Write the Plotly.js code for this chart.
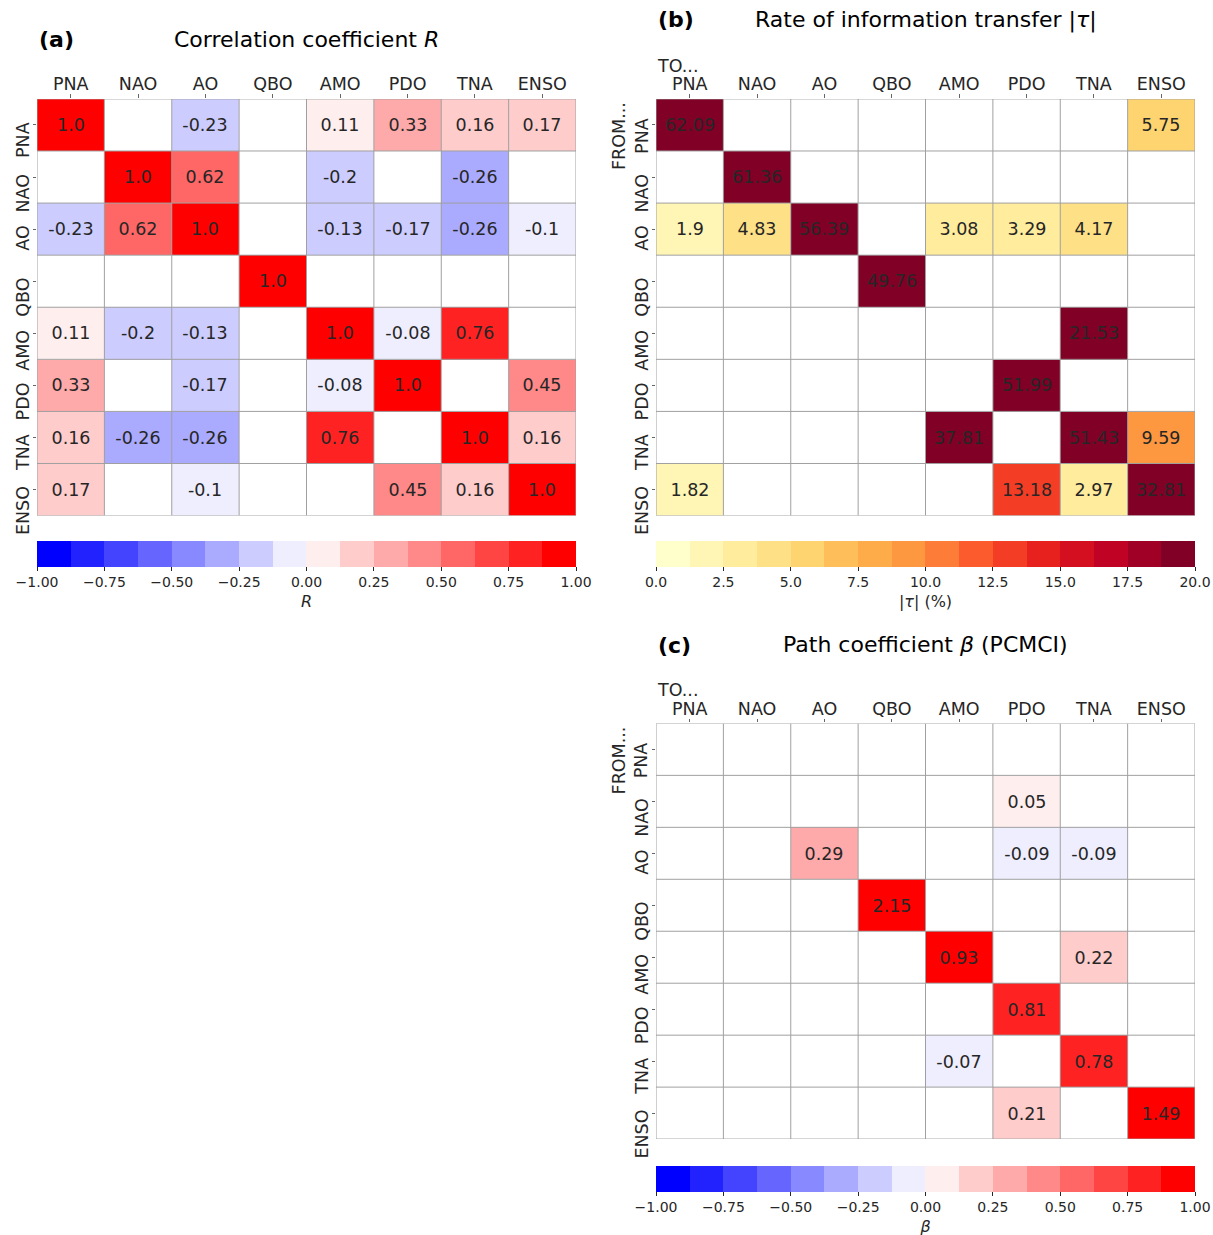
<!DOCTYPE html>
<html><head><meta charset="utf-8">
<script src="https://cdn.plot.ly/plotly-3.0.1.min.js"></script>
<style>html,body{margin:0;padding:0;background:#fff}#chart{width:1213px;height:1235px}</style>
</head><body><div id="chart"></div>
<script>
// ---------------- DATA ----------------
const categories = ['PNA','NAO','AO','QBO','AMO','PDO','TNA','ENSO'];

// (a) correlation coefficient R (rows = y, columns = x)
const corrR = [
  [1.0,  null, -0.23, null, 0.11, 0.33, 0.16, 0.17],
  [null, 1.0,  0.62,  null, -0.2, null, -0.26, null],
  [-0.23, 0.62, 1.0,  null, -0.13, -0.17, -0.26, -0.1],
  [null, null, null,  1.0,  null, null, null, null],
  [0.11, -0.2, -0.13, null, 1.0, -0.08, 0.76, null],
  [0.33, null, -0.17, null, -0.08, 1.0, null, 0.45],
  [0.16, -0.26, -0.26, null, 0.76, null, 1.0, 0.16],
  [0.17, null, -0.1,  null, null, 0.45, 0.16, 1.0]
];

// (b) rate of information transfer |tau| (%)  FROM row TO column
const tauRate = [
  [62.09, null, null, null, null, null, null, 5.75],
  [null, 61.36, null, null, null, null, null, null],
  [1.9, 4.83, 56.39, null, 3.08, 3.29, 4.17, null],
  [null, null, null, 49.76, null, null, null, null],
  [null, null, null, null, null, null, 21.53, null],
  [null, null, null, null, null, 51.99, null, null],
  [null, null, null, null, 37.81, null, 51.43, 9.59],
  [1.82, null, null, null, null, 13.18, 2.97, 32.81]
];

// (c) path coefficient beta (PCMCI)  FROM row TO column
const pathBeta = [
  [null, null, null, null, null, null, null, null],
  [null, null, null, null, null, 0.05, null, null],
  [null, null, 0.29, null, null, -0.09, -0.09, null],
  [null, null, null, 2.15, null, null, null, null],
  [null, null, null, null, 0.93, null, 0.22, null],
  [null, null, null, null, null, 0.81, null, null],
  [null, null, null, null, -0.07, null, 0.78, null],
  [null, null, null, null, null, 0.21, null, 1.49]
];

const rTicks = [-1, -0.75, -0.5, -0.25, 0, 0.25, 0.5, 0.75, 1];
const tauTicks = [0, 2.5, 5, 7.5, 10, 12.5, 15, 17.5, 20];

// discrete colormaps (16 levels)
const bwrLevels = ['#0000ff','#2222ff','#4444ff','#6666ff','#8888ff','#aaaaff','#ccccff','#eeeeff',
                   '#ffeeee','#ffcccc','#ffaaaa','#ff8888','#ff6666','#ff4444','#ff2222','#ff0000'];
const ylorrdLevels = ['rgb(255,255,204)','rgb(255,245,181)','rgb(255,236,157)','rgb(254,225,135)',
                      'rgb(254,212,112)','rgb(254,191,90)','rgb(254,171,73)','rgb(253,151,64)',
                      'rgb(253,124,55)','rgb(252,91,46)','rgb(244,61,37)','rgb(230,33,30)',
                      'rgb(212,16,32)','rgb(192,2,37)','rgb(161,0,38)','rgb(128,0,38)'];

// ---------------- HELPERS ----------------
const W = 1213, H = 1235;
const fx = p => p / W;
const fy = p => 1 - p / H;
const FONT = 'DejaVu Sans, Verdana, sans-serif';
const TXT = '#262626';
const LBL = 17.5;

function stepScale(cols) {
  const n = cols.length, out = [];
  cols.forEach((c, i) => { out.push([i / n, c]); out.push([(i + 1) / n, c]); });
  return out;
}
function fmt(v) {
  if (v === null) return '';
  return Number.isInteger(v) ? v.toFixed(1) : String(v);
}
const textOf = m => m.map(r => r.map(fmt));

// panel pixel boxes
const boxes = {
  a: {x0: 37, x1: 576, y0: 99, y1: 516},
  b: {x0: 656, x1: 1195, y0: 99, y1: 516},
  c: {x0: 656, x1: 1195, y0: 724, y1: 1140}
};

function heat(z, scale, zmin, zmax, xa, ya, box, cbTop, cbTitle, ticks, tfmt) {
  return {
    type: 'heatmap', x: categories, y: categories, z: z,
    text: textOf(z), texttemplate: '%{text}',
    textfont: {family: FONT, size: LBL, color: TXT},
    colorscale: stepScale(scale), zmin: zmin, zmax: zmax,
    xaxis: xa, yaxis: ya, hoverinfo: 'skip',
    colorbar: {
      orientation: 'h', x: fx((box.x0 + box.x1) / 2), xanchor: 'center',
      y: fy(cbTop), yanchor: 'top', len: box.x1 - box.x0, lenmode: 'pixels',
      thickness: 26, thicknessmode: 'pixels', xpad: 0, ypad: 0,
      outlinewidth: 0, tickvals: ticks, tickformat: tfmt,
      ticks: 'outside', ticklen: 4, tickwidth: 1, tickcolor: TXT,
      tickfont: {family: FONT, size: 14, color: TXT},
      title: {text: cbTitle, side: 'bottom', font: {family: FONT, size: 16, color: TXT}}
    }
  };
}

const n = categories.length;
function axisPair(box, anchorX, anchorY) {
  const xa = {
    domain: [fx(box.x0), fx(box.x1)], anchor: anchorY, side: 'top',
    range: [-0.5, n - 0.5], showgrid: false, zeroline: false, showline: false,
    ticks: 'outside', ticklen: 3.5, tickwidth: 1, tickcolor: '#666', ticklabelstandoff: -3,
    tickfont: {family: FONT, size: LBL, color: TXT}, fixedrange: true, type: 'category'
  };
  const ya = {
    domain: [fy(box.y1), fy(box.y0)], anchor: anchorX,
    range: [n - 0.5, -0.5], showgrid: false, zeroline: false, showline: false,
    ticks: 'outside', ticklen: 3.5, tickwidth: 1, tickcolor: '#666',
    showticklabels: false, fixedrange: true, type: 'category'
  };
  return [xa, ya];
}

const [xa1, ya1] = axisPair(boxes.a, 'x', 'y');
const [xa2, ya2] = axisPair(boxes.b, 'x2', 'y2');
const [xa3, ya3] = axisPair(boxes.c, 'x3', 'y3');

const data = [
  heat(corrR, bwrLevels, -1, 1, 'x', 'y', boxes.a, 541, '<i>R</i>', rTicks, '.2f'),
  heat(tauRate, ylorrdLevels, 0, 20, 'x2', 'y2', boxes.b, 541, '|<i>τ</i>| (%)', tauTicks, '.1f'),
  heat(pathBeta, bwrLevels, -1, 1, 'x3', 'y3', boxes.c, 1166, '<i>β</i>', rTicks, '.2f')
];

// grid lines between cells
const shapes = [];
[['x', 'y'], ['x2', 'y2'], ['x3', 'y3']].forEach(([xr, yr]) => {
  for (let k = 0; k <= n; k++) {
    shapes.push({type: 'line', xref: xr, yref: yr, x0: k - 0.5, x1: k - 0.5, y0: -0.5, y1: n - 0.5,
                 line: {color: '#a0a0a0', width: 1}, layer: 'above'});
    shapes.push({type: 'line', xref: xr, yref: yr, y0: k - 0.5, y1: k - 0.5, x0: -0.5, x1: n - 0.5,
                 line: {color: '#a0a0a0', width: 1}, layer: 'above'});
  }
});

function ann(text, px, py, opts) {
  return Object.assign({text: text, xref: 'paper', yref: 'paper', x: fx(px), y: fy(py),
    showarrow: false, xanchor: 'center', yanchor: 'middle',
    font: {family: FONT, size: 22, color: '#000'}}, opts || {});
}

const annotations = [
  ann('<b>(a)</b>', 37, 40, {xanchor: 'left'}),
  ann('Correlation coefficient <i>R</i>', 306.5, 40),
  ann('<b>(b)</b>', 656, 20, {xanchor: 'left'}),
  ann('Rate of information transfer |<i>τ</i>|', 925.5, 20),
  ann('<b>(c)</b>', 656, 646, {xanchor: 'left'}),
  ann('Path coefficient <i>β</i> (PCMCI)', 925.5, 645),
  ann('TO...', 655, 66, {xanchor: 'left', font: {family: FONT, size: LBL, color: TXT}}),
  ann('TO...', 655, 691, {xanchor: 'left', font: {family: FONT, size: LBL, color: TXT}})
];

// rotated y tick labels (top of each label sits just above its tick, as in the reference)
function yLabels(box, yref, fromLabel) {
  categories.forEach((c, i) => {
    const first = fromLabel && i === 0;
    annotations.push({
      text: first ? 'FROM...<br>' + c : c,
      xref: 'paper', yref: yref, x: fx(box.x0 - 2), y: c,
      xanchor: 'right', yanchor: first ? 'middle' : 'top', yshift: first ? -11.5 : 5,
      textangle: -90, showarrow: false, align: 'center',
      font: {family: FONT, size: LBL, color: TXT}
    });
  });
}
yLabels(boxes.a, 'y', false);
yLabels(boxes.b, 'y2', true);
yLabels(boxes.c, 'y3', true);

const layout = {
  width: W, height: H, margin: {l: 0, r: 0, t: 0, b: 0},
  paper_bgcolor: '#fff', plot_bgcolor: '#fff', showlegend: false,
  font: {family: FONT, color: TXT},
  xaxis: xa1, yaxis: ya1, xaxis2: xa2, yaxis2: ya2, xaxis3: xa3, yaxis3: ya3,
  shapes: shapes, annotations: annotations
};

Plotly.newPlot('chart', data, layout, {displayModeBar: false, staticPlot: true});
</script></body></html>
